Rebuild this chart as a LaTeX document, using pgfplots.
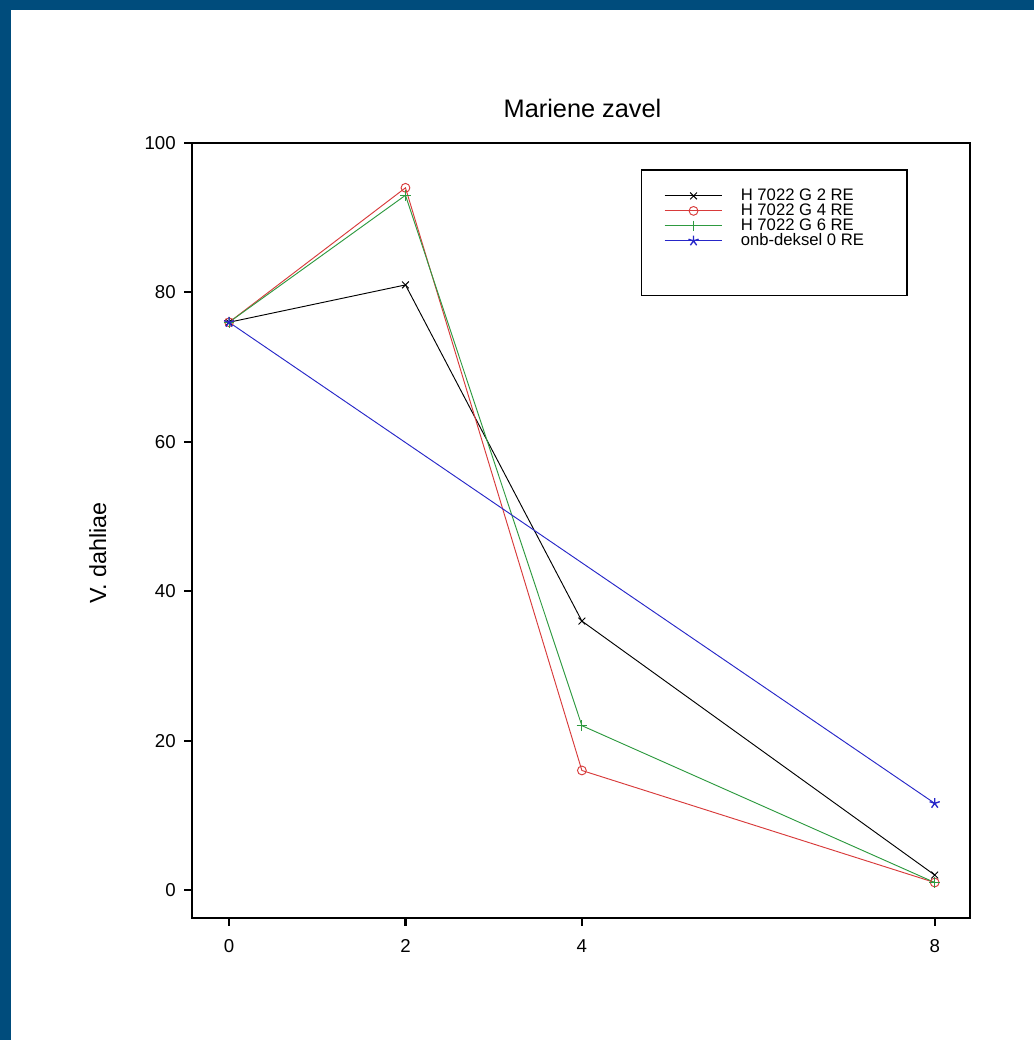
\documentclass[border=0pt]{standalone}
\usepackage{fontspec}
\setmainfont{Liberation Sans}
\usepackage{pgfplots}
\pgfplotsset{compat=1.18}
\definecolor{frameblue}{HTML}{004C7C}
\definecolor{lred}{HTML}{D83A3A}
\definecolor{lgreen}{HTML}{2E9A40}
\definecolor{lblue}{HTML}{2626C8}
\begin{document}
\begin{tikzpicture}
\fill[frameblue] (0pt,0pt) rectangle (775.5pt,780pt);
\fill[white] (8.25pt,0pt) rectangle (775.5pt,772.5pt);
\begin{axis}[
  at={(144pt,91.5pt)}, anchor=south west, scale only axis,
  width=583.5pt, height=581.25pt,
  xmin=-0.42, xmax=8.4, ymin=-3.75, ymax=100,
  xtick={0,2,4,8}, ytick={0,20,40,60,80,100},
  xtick pos=left, ytick pos=left,
  tick align=outside, major tick length=6pt,
  axis line style={line width=1.6pt},
  every tick/.style={line width=1.6pt, black},
  /pgf/number format/assume math mode=true,
  ticklabel style={font=\fontsize{14}{16}\selectfont, inner sep=0pt},
  xticklabel shift=10pt, yticklabel shift=6pt,
  title={Mariene zavel},
  title style={font=\fontsize{19}{22}\selectfont, at={(axis description cs:0.502,1.022)}, anchor=base},
  ylabel={V. dahliae},
  ylabel style={font=\fontsize{17.5}{20}\selectfont, at={(axis description cs:-0.121,0.471)}, anchor=center},
  legend style={at={(rel axis cs:0.6015,0.9452)}, anchor=north west, draw=none, fill=none,
    font=\fontsize{12.5}{12.5}\selectfont,
    nodes={inner sep=0pt, text height=8.75pt, text depth=2.5pt},
    row sep=0pt, column sep=13.5pt},
  legend cell align=left,
  legend image code/.code={\draw[mark repeat=2,mark phase=2] plot coordinates {(0cm,0cm) (0.76cm,0cm) (1.52cm,0cm)};},
]
\addplot[black, line width=0.7pt, mark=x, mark size=3.6pt, mark options={solid}] coordinates {(0,76) (2,81) (4,36) (8,2)};
\addlegendentry{H 7022 G 2 RE}
\addplot[lred, line width=0.7pt, mark=o, mark size=3.3pt, mark options={solid}] coordinates {(0,76) (2,94) (4,16) (8,1)};
\addlegendentry{H 7022 G 4 RE}
\addplot[lgreen, line width=0.7pt, mark=+, mark size=4pt, mark options={solid}] coordinates {(0,76) (2,93) (4,22) (8,1)};
\addlegendentry{H 7022 G 6 RE}
\addplot[lblue, line width=0.7pt, mark=star, mark size=4pt, mark options={solid, fill=lblue, line width=1pt}] coordinates {(0,76) (8,11.6)};
\addlegendentry{onb-deksel 0 RE}
\draw[line width=1pt] (rel axis cs:0.578,0.803) rectangle (rel axis cs:0.919,0.965);
\end{axis}
\end{tikzpicture}
\end{document}
